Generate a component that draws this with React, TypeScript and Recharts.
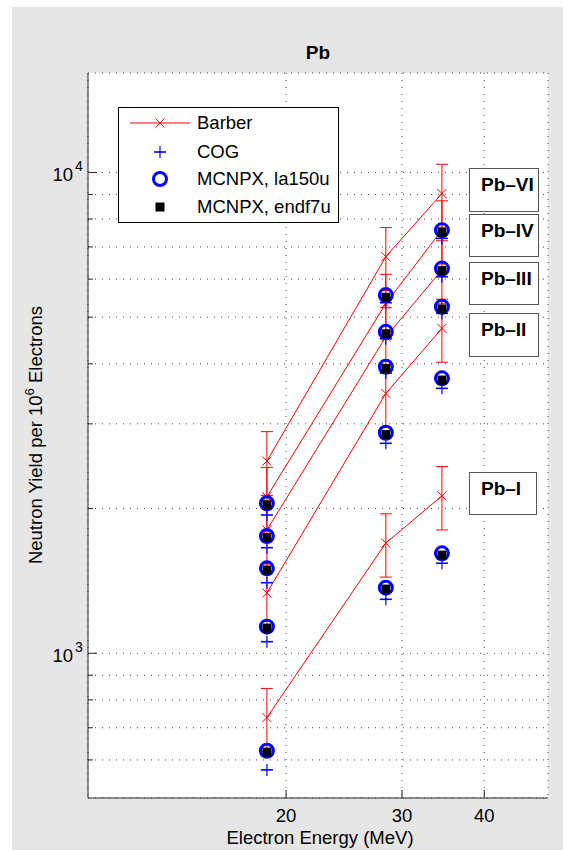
import React from 'react';
import { ComposedChart, Scatter, XAxis, YAxis, CartesianGrid, ErrorBar } from 'recharts';

// Electron energies (MeV)
const energies = [18.7, 28.35, 34.5];

// Barber measurements (with error bars)
const barberPbI = [735, 1695, 2125];
const barberPbII = [1335, 3470, 4740];
const barberPbIII = [1805, 4550, 6270];
const barberPbIV = [2115, 5340, 7590];
const barberPbVI = [2510, 6680, 9040];
const barberErrPbI = [110, 255, 320];
const barberErrPbII = [200, 520, 710];
const barberErrPbIII = [270, 680, 940];
const barberErrPbIV = [320, 800, 1140];
const barberErrPbVI = [380, 1000, 1360];

// COG
const cogPbI = [572, 1295, 1539];
const cogPbII = [1057, 2733, 3556];
const cogPbIII = [1402, 3826, 5093];
const cogPbIV = [1658, 4508, 6067];
const cogPbVI = [1939, 5358, 7292];

// MCNPX, la150u
const la150PbI = [627, 1369, 1614];
const la150PbII = [1136, 2875, 3730];
const la150PbIII = [1502, 3943, 5256];
const la150PbIV = [1753, 4661, 6310];
const la150PbVI = [2051, 5559, 7586];

// MCNPX, endf7u
const endfPbI = [623, 1360, 1600];
const endfPbII = [1128, 2850, 3700];
const endfPbIII = [1490, 3910, 5200];
const endfPbIV = [1740, 4620, 6250];
const endfPbVI = [2035, 5500, 7500];

const xTicks = [20, 30, 40];
const yTicks = [600, 700, 800, 900, 1000, 2000, 3000, 4000, 5000, 6000, 7000, 8000, 9000, 10000];
const sampleLabels = ['Pb\u2013VI', 'Pb\u2013IV', 'Pb\u2013III', 'Pb\u2013II', 'Pb\u2013I'];
const legendLabels = ['Barber', 'COG', 'MCNPX, la150u', 'MCNPX, endf7u'];

const FONT = '"Liberation Sans", Arial, Helvetica, sans-serif';
const RED = '#ff0000';
const BLUE = '#0000ff';
const AX = '#262626';

const mk = (ys: number[], errs?: number[]) =>
  energies.map((x, i) => ({ x, y: ys[i], err: errs ? errs[i] : 0 }));

const barberSets = [
  mk(barberPbI, barberErrPbI),
  mk(barberPbII, barberErrPbII),
  mk(barberPbIII, barberErrPbIII),
  mk(barberPbIV, barberErrPbIV),
  mk(barberPbVI, barberErrPbVI),
];
const cogData = [cogPbI, cogPbII, cogPbIII, cogPbIV, cogPbVI].flatMap((s) => mk(s));
const la150Data = [la150PbI, la150PbII, la150PbIII, la150PbIV, la150PbVI].flatMap((s) => mk(s));
const endfData = [endfPbI, endfPbII, endfPbIII, endfPbIV, endfPbVI].flatMap((s) => mk(s));

const XMark = (p: any) => {
  const { cx, cy } = p;
  if (cx == null || cy == null) return null;
  const s = 4.5;
  return (
    <g>
      <line x1={cx - s} y1={cy - s} x2={cx + s} y2={cy + s} stroke={RED} strokeWidth={1} />
      <line x1={cx - s} y1={cy + s} x2={cx + s} y2={cy - s} stroke={RED} strokeWidth={1} />
    </g>
  );
};
const PlusMark = (p: any) => {
  const { cx, cy } = p;
  if (cx == null || cy == null) return null;
  const s = 6;
  return (
    <g>
      <line x1={cx - s} y1={cy} x2={cx + s} y2={cy} stroke={BLUE} strokeWidth={1.6} />
      <line x1={cx} y1={cy - s} x2={cx} y2={cy + s} stroke={BLUE} strokeWidth={1.2} />
    </g>
  );
};
const CircleMark = (p: any) => {
  const { cx, cy } = p;
  if (cx == null || cy == null) return null;
  return <circle cx={cx} cy={cy} r={6.5} fill="none" stroke={BLUE} strokeWidth={3} />;
};
const SquareMark = (p: any) => {
  const { cx, cy } = p;
  if (cx == null || cy == null) return null;
  return <rect x={cx - 4.5} y={cy - 4.5} width={9} height={9} fill="#000" />;
};

const YTick = (p: any) => {
  const { x, y, payload } = p;
  const v = payload.value;
  const major = v === 1000 || v === 10000;
  const exp = Math.round(Math.log10(v));
  return (
    <g>
      <line x1={x} x2={x + (major ? 9 : 5)} y1={y} y2={y} stroke={AX} strokeWidth={1} />
      {major && (
        <g fontFamily={FONT} fill="#000">
          <text x={x - 15} y={y + 8.4} textAnchor="end" fontSize={18.5}>10</text>
          <text x={x - 13} y={y - 1.6} textAnchor="start" fontSize={14}>{exp}</text>
        </g>
      )}
    </g>
  );
};

const XTick = (p: any) => {
  const { x, y, payload } = p;
  return (
    <g>
      <line x1={x} x2={x} y1={y} y2={y - 8} stroke={AX} strokeWidth={1} />
      <text x={x} y={y + 23.7} textAnchor="middle" fontSize={18.5} fontFamily={FONT} fill="#000">
        {payload.value}
      </text>
    </g>
  );
};

const boxes = [
  { left: 469, top: 168, width: 70, height: 44 },
  { left: 469, top: 214, width: 70, height: 43 },
  { left: 469, top: 262, width: 70, height: 43 },
  { left: 469, top: 313, width: 70, height: 44 },
  { left: 469, top: 472, width: 68, height: 43 },
];

const LegendMarker = ({ i }: { i: number }) => {
  const cx = 42;
  const cy = 10;
  return (
    <svg width={80} height={20} style={{ position: 'absolute', left: 0, top: 0 }}>
      {i === 0 && <line x1={12} x2={72} y1={cy} y2={cy} stroke={RED} strokeWidth={1} />}
      {i === 0 && <XMark cx={cx} cy={cy} />}
      {i === 1 && <PlusMark cx={cx} cy={cy} />}
      {i === 2 && <CircleMark cx={cx} cy={cy} />}
      {i === 3 && <SquareMark cx={cx} cy={cy} />}
    </svg>
  );
};

export default function App() {
  const legendRowY = [123, 151.5, 178.5, 207];
  return (
    <div style={{ position: 'absolute', left: 0, top: 0, width: 563, height: 850, background: '#fff', overflow: 'hidden', fontFamily: FONT }}>
      <div style={{ position: 'absolute', left: 12, top: 7, width: 551, height: 843, background: '#e6e6e6' }} />
      <div style={{ position: 'absolute', left: 0, top: 0 }}>
        <ComposedChart width={563} height={850} margin={{ top: 73, right: 15, bottom: 12, left: 8 }}>
          <CartesianGrid
            fill="#ffffff"
            stroke="#444"
            strokeDasharray="1 6"
            strokeWidth={1}
          />
          <XAxis
            dataKey="x"
            type="number"
            scale="log"
            domain={[10, 50]}
            allowDataOverflow
            ticks={xTicks}
            interval={0}
            height={40}
            tickSize={0}
            tickMargin={0}
            tickLine={false}
            axisLine={{ stroke: AX, strokeWidth: 1 }}
            tick={<XTick />}
          />
          <YAxis
            dataKey="y"
            type="number"
            scale="log"
            domain={[500, 16100]}
            allowDataOverflow
            ticks={yTicks}
            interval={0}
            width={80}
            tickSize={0}
            tickMargin={0}
            tickLine={false}
            axisLine={{ stroke: AX, strokeWidth: 1 }}
            tick={<YTick />}
          />
          {barberSets.map((d, i) => (
            <Scatter
              key={'b' + i}
              data={d}
              line={{ stroke: RED, strokeWidth: 1 }}
              lineType="joint"
              shape={<XMark />}
              isAnimationActive={false}
            >
              <ErrorBar dataKey="err" direction="y" width={6} stroke={RED} strokeWidth={1} />
            </Scatter>
          ))}
          <Scatter data={cogData} shape={<PlusMark />} isAnimationActive={false} />
          <Scatter data={la150Data} shape={<CircleMark />} isAnimationActive={false} />
          <Scatter data={endfData} shape={<SquareMark />} isAnimationActive={false} />
        </ComposedChart>
      </div>

      {/* Title */}
      <div style={{ position: 'absolute', left: 318, top: 53, transform: 'translate(-50%, -50%)', fontWeight: 'bold', fontSize: 19, whiteSpace: 'nowrap' }}>
        Pb
      </div>

      {/* Axis labels */}
      <div style={{ position: 'absolute', left: 320, top: 838, transform: 'translate(-50%, -50%)', fontSize: 18.5, whiteSpace: 'nowrap', lineHeight: 1 }}>
        Electron Energy (MeV)
      </div>
      <div style={{ position: 'absolute', left: 36, top: 435, transform: 'translate(-50%, -50%) rotate(-90deg)', fontSize: 18.5, whiteSpace: 'nowrap', lineHeight: 1 }}>
        Neutron Yield per 10<span style={{ fontSize: 13, position: 'relative', top: -8 }}>6</span> Electrons
      </div>

      {/* Legend */}
      <div style={{ position: 'absolute', left: 117.5, top: 106.5, width: 221, height: 116.5, border: '1px solid #000', background: '#fff', boxSizing: 'border-box' }} />
      {legendLabels.map((lab, i) => (
        <div key={lab} style={{ position: 'absolute', left: 118, top: legendRowY[i] - 10, width: 220, height: 20 }}>
          <LegendMarker i={i} />
          <div style={{ position: 'absolute', left: 79, top: 10, transform: 'translateY(-50%)', fontSize: 18.5, lineHeight: 1, whiteSpace: 'nowrap' }}>
            {lab}
          </div>
        </div>
      ))}

      {/* Sample labels */}
      {sampleLabels.map((lab, i) => (
        <div key={lab} style={{ position: 'absolute', left: boxes[i].left, top: boxes[i].top, width: boxes[i].width, height: boxes[i].height, border: '1px solid #555', background: '#fff', boxSizing: 'border-box' }}>
          <div style={{ position: 'absolute', left: 11, top: 15, transform: 'translateY(-50%)', fontWeight: 'bold', fontSize: 19, lineHeight: 1, whiteSpace: 'nowrap' }}>
            {lab}
          </div>
        </div>
      ))}
    </div>
  );
}
